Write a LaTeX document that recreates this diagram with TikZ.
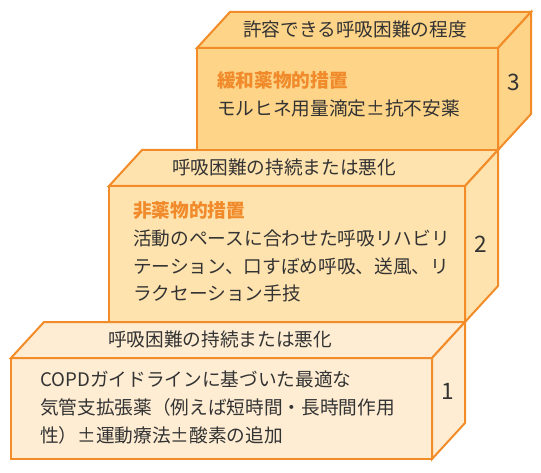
\documentclass[tikz,border=0pt]{standalone}
\usepackage{fontspec}
\setmainfont{Noto Sans CJK JP}
\usetikzlibrary{positioning}
\definecolor{boxline}{HTML}{F28C28}
\definecolor{stepthree}{HTML}{FDD488}
\definecolor{steptwo}{HTML}{FFE3AE}
\definecolor{stepone}{HTML}{FEEDD3}
\definecolor{headtext}{HTML}{F08A2A}
\definecolor{bodytext}{HTML}{333333}

\begin{document}
\begin{tikzpicture}[x=0.75pt,y=-0.75pt]
 		\tikzstyle{face}=[draw=boxline, line width=1.5pt, line join=miter]
 		\tikzstyle{line}=[inner sep=0pt, text height=11pt, text depth=3pt, font=\fontsize{14}{16}\selectfont, node distance=6.5pt]
 		\tikzstyle{title}=[line, text=bodytext]
 		\tikzstyle{head}=[line, text=headtext, font=\fontsize{14}{16}\selectfont\bfseries, anchor=west]
 		\tikzstyle{body}=[line, text=bodytext, anchor=west]
 		\tikzstyle{num}=[inner sep=0pt, text=bodytext, font=\fontsize{17}{18}\selectfont]
 		\useasboundingbox (0,0) rectangle (541,473);
 		% step 1
 		\filldraw[face, fill=stepone] (11,358) rectangle (432,459);
 		\filldraw[face, fill=stepone] (11,358) -- (44,322) -- (465,322) -- (432,358) -- cycle;
 		\filldraw[face, fill=stepone] (432,358) -- (465,322) -- (465,423) -- (432,459) -- cycle;
 		% step 2
 		\filldraw[face, fill=steptwo] (109,186) rectangle (465,322);
 		\filldraw[face, fill=steptwo] (109,186) -- (142,150) -- (498,150) -- (465,186) -- cycle;
 		\filldraw[face, fill=steptwo] (465,186) -- (498,150) -- (498,286) -- (465,322) -- cycle;
 		% step 3
 		\filldraw[face, fill=stepthree] (197,48) rectangle (498,150);
 		\filldraw[face, fill=stepthree] (197,48) -- (230,12) -- (531,12) -- (498,48) -- cycle;
 		\filldraw[face, fill=stepthree] (498,48) -- (531,12) -- (531,114) -- (498,150) -- cycle;
 		% titles
 		\node[title] (tthree) at (355,31) {許容できる呼吸困難の程度};
 		\node[title] (ttwo) at (284,169) {呼吸困難の持続または悪化};
 		\node[title] (tone) at (220,341) {呼吸困難の持続または悪化};
 		% step 3 text
 		\node[head] (hthree) at (217,82) {緩和薬物的措置};
 		\node[body] (bthree) [below=of hthree.south west, anchor=north west] {モルヒネ用量滴定±抗不安薬};
 		% step 2 text
 		\node[head] (htwo) at (133,212) {非薬物的措置};
 		\node[body] (btwoa) [below=of htwo.south west, anchor=north west] {活動のペースに合わせた呼吸リハビリ};
 		\node[body] (btwob) [below=of btwoa.south west, anchor=north west] {テーション、口すぼめ呼吸、送風、リ};
 		\node[body] (btwoc) [below=of btwob.south west, anchor=north west] {ラクセーション手技};
 		% step 1 text
 		\node[body] (bonea) at (40,381) {COPDガイドラインに基づいた最適な};
 		\node[body] (boneb) [below=of bonea.south west, anchor=north west] {気管支拡張薬（例えば短時間・長時間作用};
 		\node[body] (bonec) [below=of boneb.south west, anchor=north west] {性）±運動療法±酸素の追加};
 		% numbers
 		\node[num] (nthree) at (514,82) {3};
 		\node[num] (ntwo) at (481,244) {2};
 		\node[num] (none) at (448,391) {1};
\end{tikzpicture}
\end{document}
